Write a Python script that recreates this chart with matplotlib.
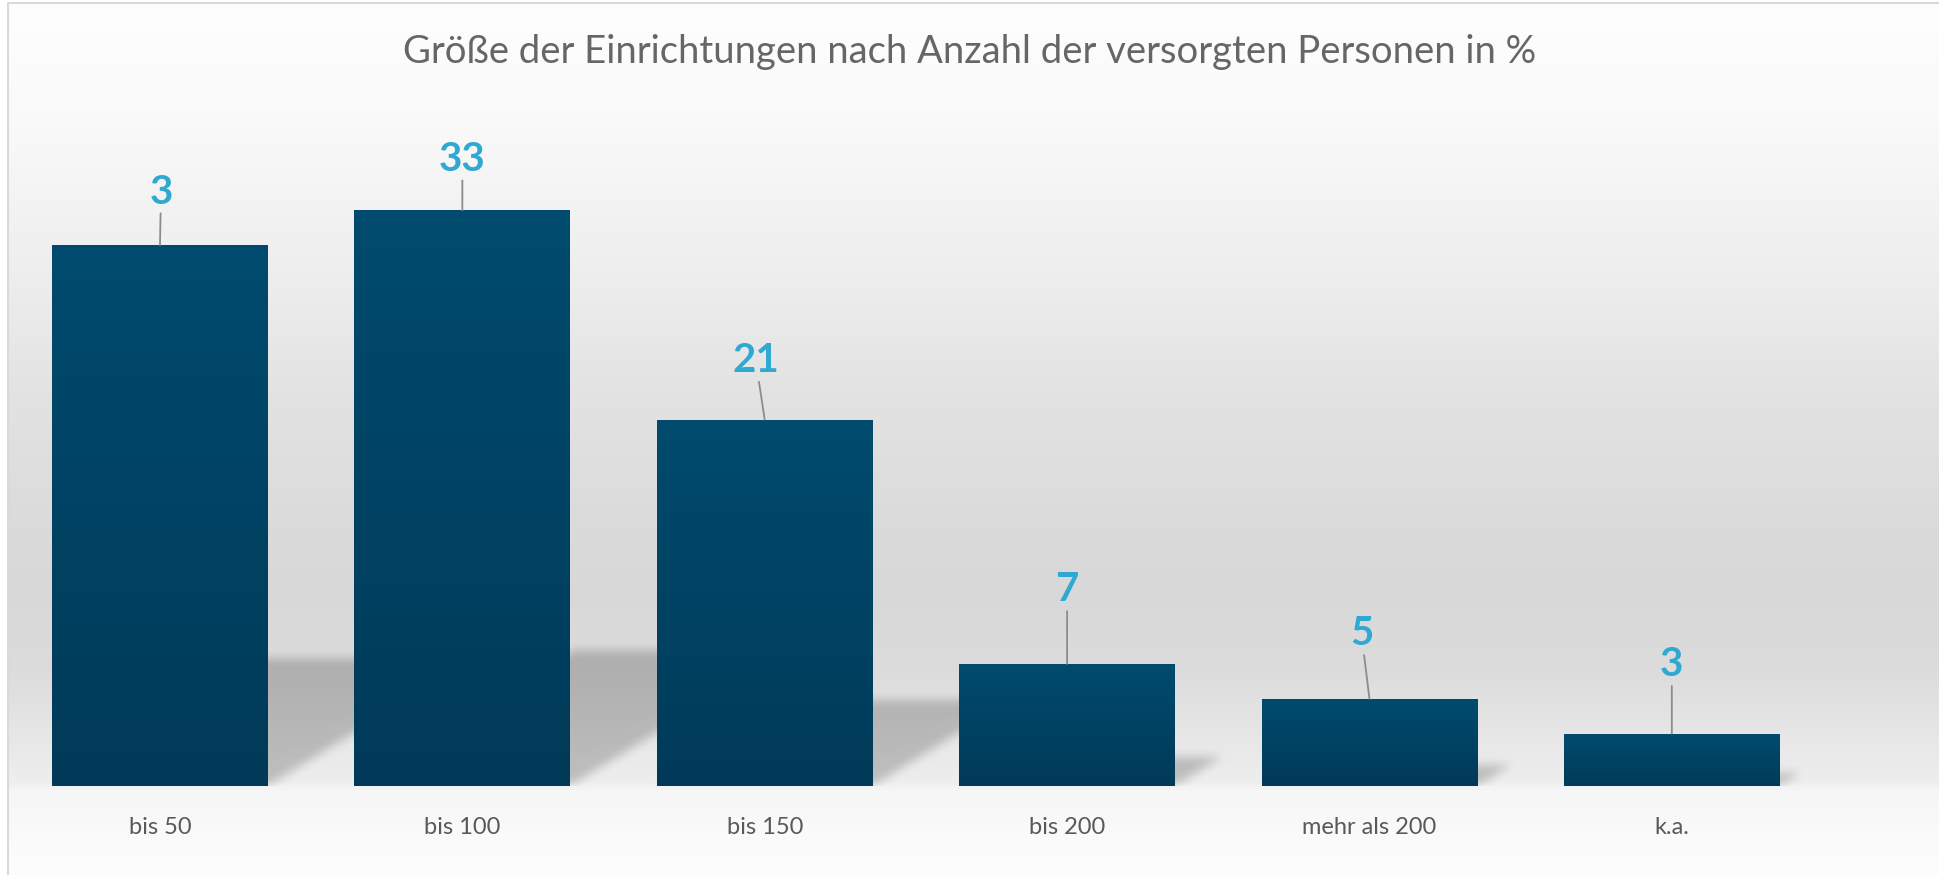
import numpy as np
import matplotlib
matplotlib.use("Agg")
import matplotlib.pyplot as plt
from matplotlib.path import Path
from matplotlib.colors import LinearSegmentedColormap

# data
kategorien = ["bis 50", "bis 100", "bis 150", "bis 200", "mehr als 200", "k.a."]
werte = [31, 33, 21, 7, 5, 3]
beschriftung = ["3", "33", "21", "7", "5", "3"]  # label of first bar is cut in the original

titel = "Größe der Einrichtungen nach Anzahl der versorgten Personen in %"

# label offsets in pixels (dx, dy) relative to the bar top
label_offset = [(1, 53), (0, 51), (-9, 59), (0, 74), (-8, 65), (0, 69)]

W, H = 1939, 875
plt.rcParams['font.family'] = ['Lato', 'DejaVu Sans']

fig = plt.figure(figsize=(W / 100, H / 100), dpi=100)
fig.patch.set_facecolor("white")

# background of the chart area (wall + floor gradient)
bg = fig.add_axes([0, 0, 1, 1], zorder=-5)
bg.set_xlim(0, W)
bg.set_ylim(H, 0)
bg.axis("off")
stops_y = [0, 112, 279, 390, 502, 586, 670, 725, 781, 790, 840, 875]
stops_g = [254, 250, 237, 227, 220, 216, 220, 229, 238, 246, 251, 253]
rows = np.interp(np.arange(H), stops_y, stops_g) / 255.0
grad = np.repeat(rows[:, None], 2, axis=1)
bg.imshow(np.dstack([grad, grad, grad]), extent=(8, W, H, 3), aspect="auto",
          interpolation="bilinear")
bg.plot([8, 8, W], [H, 3, 3], color="#d9d9d9", lw=1.5)

# main axes
px_unit = 17.45
ax_w_px = 1814.2
ax = fig.add_axes([8.8 / W, 89 / H, ax_w_px / W, 686 / H])
ax.set_facecolor("none")
ax.set_xlim(-0.5, len(werte) - 0.5)
ax.set_ylim(0, 686 / px_unit)
for s in ax.spines.values():
    s.set_visible(False)
ax.set_yticks([])
x = np.arange(len(werte))
ax.set_xticks(x)
ax.set_xticklabels(kategorien, fontsize=17, color="#595959")
ax.tick_params(axis="x", length=0, pad=22)

bars = ax.bar(x, werte, width=0.714, color="#00425F", zorder=3)

# vertical gradient inside each bar
cmap = LinearSegmentedColormap.from_list("balken", ["#003A58", "#004B6F"])
verlauf = np.linspace(0, 1, 100)[:, None]
for p in bars:
    x0, y0 = p.get_x(), p.get_y()
    im = ax.imshow(verlauf, cmap=cmap, origin="lower", aspect="auto",
                   extent=(x0, x0 + p.get_width(), y0, y0 + p.get_height()),
                   zorder=3.5)
    im.set_clip_path(p)


def box_blur(a, r, axis):
    k = np.ones(2 * r + 1) / (2 * r + 1)
    return np.apply_along_axis(lambda v: np.convolve(v, k, mode="same"), axis, a)


# perspective shadows to the right of each bar, rasterised and blurred
x_lo, x_hi = -0.5, len(werte) - 0.5
y_hi = 12.0
nx_, ny_ = int(ax_w_px), int(y_hi * px_unit)
gx = np.linspace(x_lo, x_hi, nx_)
gy = np.linspace(0, y_hi, ny_)
GX, GY = np.meshgrid(gx, gy)
pts_grid = np.column_stack([GX.ravel(), GY.ravel()])
maske = np.zeros(GX.shape)
for p in bars:
    x0, w, h = p.get_x(), p.get_width(), p.get_height()
    dy = 0.235 * h
    dx = 0.379 * h * px_unit / (ax_w_px / len(werte))
    poly = Path([(x0, 0), (x0 + w, 0), (x0 + w + dx, dy), (x0 + dx, dy), (x0, 0)])
    maske = np.maximum(maske, poly.contains_points(pts_grid).reshape(GX.shape))
for _ in range(3):
    maske = box_blur(maske, 4, 1)
    maske = box_blur(maske, 4, 0)
schatten = np.zeros(GX.shape + (4,))
schatten[..., 3] = maske * 0.2
ax.imshow(schatten, origin="lower", aspect="auto", extent=(x_lo, x_hi, 0, y_hi),
          zorder=2, interpolation="bilinear")

# data labels with leader lines
for i, p in enumerate(bars):
    xc = p.get_x() + p.get_width() / 2
    top = p.get_height()
    dx, dy = label_offset[i]
    ax.annotate(beschriftung[i], xy=(xc, top), xytext=(dx, dy),
                textcoords="offset pixels", ha="center", va="center",
                fontsize=29, fontweight="bold", color="#2FA8D2",
                arrowprops=dict(arrowstyle="-", color="#8c8c8c", lw=1.3,
                                shrinkA=0, shrinkB=0),
                zorder=5)

ax.set_xlim(x_lo, x_hi)
ax.set_ylim(0, 686 / px_unit)

fig.text(0.5, 1 - 52 / H, titel, ha="center", va="center",
         fontsize=27.5, color="#666666")

fig.savefig("out.png", dpi=100)
